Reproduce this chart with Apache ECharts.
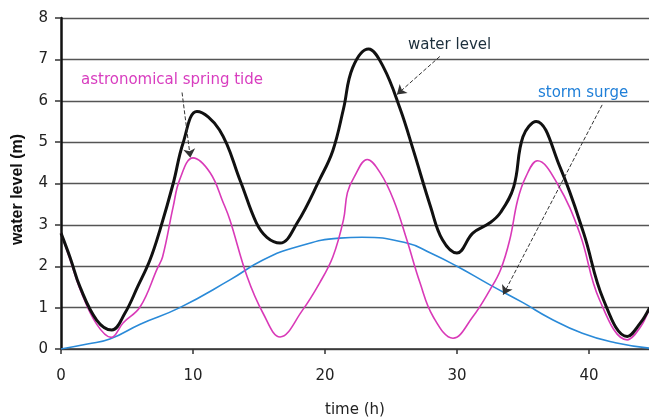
<!DOCTYPE html>
<html><head><meta charset="utf-8">
<script src="https://cdn.jsdelivr.net/npm/echarts@6/dist/echarts.min.js"></script>
<style>html,body{margin:0;padding:0;background:#fff}#c{width:649px;height:418px}</style>
</head><body><div id="c"></div>
<script>
// water level (black)
var timeWater = [0, 0.7, 1.44, 2.7, 3.85, 4.85, 5.8, 6.74, 7.5, 8.5, 9.25, 10.3, 12, 13.6, 14.8, 15.6, 16.6, 17.9, 19.6, 20.6, 21.4, 22.1, 23.3, 24.4, 25.7, 26.7, 28, 28.9, 30, 31.2, 32.5, 33.3, 34.3, 35, 36, 37.8, 39.6, 41.1, 42.9, 43.9, 44.6];
var waterLevel = [2.8, 2.2, 1.5, 0.7, 0.46, 0.87, 1.5, 2.15, 2.88, 4.0, 4.98, 5.74, 5.3, 4.05, 3.05, 2.7, 2.56, 3.05, 4.1, 4.8, 5.8, 6.8, 7.25, 6.83, 5.8, 4.8, 3.44, 2.64, 2.32, 2.8, 3.05, 3.3, 3.92, 5.13, 5.5, 4.4, 2.8, 1.19, 0.3, 0.63, 1.0];
// astronomical spring tide (magenta)
var timeTide = [0, 0.7, 1.5, 2.7, 3.8, 4.7, 6, 7.3, 7.7, 8.5, 9, 10, 11.3, 12.3, 12.8, 14.1, 15.3, 16.6, 18.3, 19.6, 20.6, 21.4, 21.7, 22.2, 23.2, 24.2, 25.2, 26.2, 27.2, 28.2, 29.7, 31.2, 32.5, 33.3, 34, 34.6, 35.2, 36.1, 37.6, 39.3, 40.8, 42.9, 43.9, 44.6];
var springTide = [2.8, 2.15, 1.4, 0.6, 0.28, 0.63, 1.02, 1.95, 2.23, 3.44, 4.1, 4.62, 4.26, 3.53, 3.12, 1.75, 0.87, 0.29, 0.94, 1.6, 2.23, 3.12, 3.78, 4.15, 4.58, 4.25, 3.6, 2.64, 1.6, 0.78, 0.26, 0.78, 1.43, 1.91, 2.64, 3.6, 4.15, 4.55, 4.0, 2.8, 1.19, 0.22, 0.53, 1.0];
// storm surge (blue)
var timeSurge = [0, 2, 3.7, 6, 9, 12.8, 15.3, 17.9, 21.1, 22.8, 26.2, 28, 30, 32.5, 35, 37, 39.5, 42, 44.6];
var stormSurge = [0, 0.12, 0.24, 0.6, 1.0, 1.67, 2.15, 2.47, 2.68, 2.7, 2.56, 2.32, 2.0, 1.55, 1.12, 0.75, 0.38, 0.15, 0.02];
var yTicks = [0, 1, 2, 3, 4, 5, 6, 7, 8];
var xTicks = [0, 10, 20, 30, 40];

function pairs(t, v) { return t.map(function (x, i) { return [x, v[i]]; }); }

var font = '"DejaVu Sans", sans-serif';
var chart = echarts.init(document.getElementById('c'));
chart.setOption({
  animation: false,
  grid: { left: 61, right: 0, top: 18, bottom: 69, containLabel: false, outerBoundsMode: 'none' },
  xAxis: {
    type: 'value', min: 0, max: 44.55, interval: 10,
    name: 'time (h)', nameLocation: 'middle', nameGap: 54,
    nameTextStyle: { fontFamily: font, fontSize: 15, color: '#222' },
    axisLine: { lineStyle: { color: '#333', width: 1.5 } },
    axisTick: { length: 5, lineStyle: { color: '#333', width: 1.5 } },
    axisLabel: { fontFamily: font, fontSize: 15, color: '#222', margin: 20, showMaxLabel: false,
      formatter: function (v) { return xTicks.indexOf(v) >= 0 ? String(v) : ''; } },
    splitLine: { show: false }
  },
  yAxis: {
    type: 'value', min: 0, max: 8, interval: 1,
    name: 'water level (m)', nameLocation: 'middle', nameGap: 35,
    nameTextStyle: { fontFamily: '"Liberation Sans", Arial, sans-serif', fontSize: 16, color: '#111', fontWeight: 'bold', padding: [0, 12, 0, 0] },
    axisLine: { show: true, lineStyle: { color: '#111', width: 2.5 } },
    axisTick: { show: true, length: 6, lineStyle: { color: '#333', width: 1.5 } },
    axisLabel: { fontFamily: font, fontSize: 15, color: '#222', margin: 13,
      formatter: function (v) { return yTicks.indexOf(v) >= 0 ? String(v) : ''; } },
    splitLine: { show: true, lineStyle: { color: '#555', width: 1.3 } }
  },
  series: [
    {
      type: 'line', data: pairs(timeSurge, stormSurge), smooth: 0.5, symbol: 'none',
      lineStyle: { color: '#2a8ad8', width: 1.6 },
      markLine: { silent: true, symbol: ['none', 'arrow'], symbolSize: 9, label: { show: false },
        lineStyle: { color: '#333', width: 1, type: [4, 2] },
        data: [[{ coord: [41.0, 5.9] }, { coord: [33.5, 1.31] }]] }
    },
    {
      type: 'line', data: pairs(timeTide, springTide), smooth: 0.4, symbol: 'none',
      lineStyle: { color: '#d93ab8', width: 1.6 },
      markLine: { silent: true, symbol: ['none', 'arrow'], symbolSize: 9, label: { show: false },
        lineStyle: { color: '#333', width: 1, type: [4, 2] },
        data: [[{ coord: [9.17, 6.2] }, { coord: [9.8, 4.62] }]] }
    },
    {
      type: 'line', data: pairs(timeWater, waterLevel), smooth: 0.4, symbol: 'none',
      lineStyle: { color: '#111', width: 3 },
      markLine: { silent: true, symbol: ['none', 'arrow'], symbolSize: 9, label: { show: false },
        lineStyle: { color: '#333', width: 1, type: [4, 2] },
        data: [[{ coord: [28.7, 7.07] }, { coord: [25.45, 6.15] }]] }
    }
  ],
  graphic: [
    { type: 'text', left: 408, top: 38, style: { text: 'water level', font: '15px ' + font, fill: '#1c2f3c' } },
    { type: 'text', left: 81, top: 73, style: { text: 'astronomical spring tide', font: '15px ' + font, fill: '#d83dbf' } },
    { type: 'text', left: 538, top: 86, style: { text: 'storm surge', font: '15px ' + font, fill: '#1f7fd8' } }
  ]
});
</script></body></html>
